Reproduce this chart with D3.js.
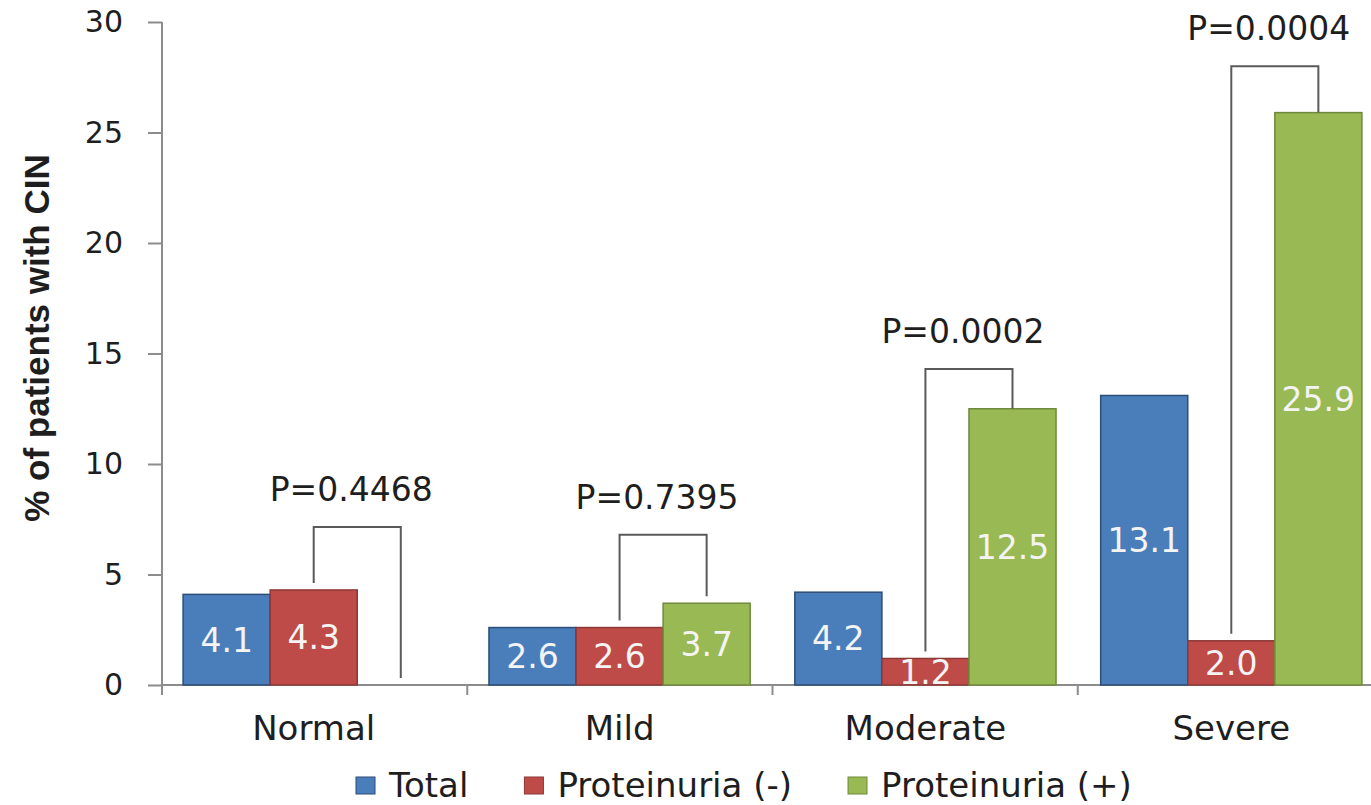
<!DOCTYPE html>
<html>
<head>
<meta charset="utf-8">
<script src="https://cdn.jsdelivr.net/npm/d3@7"></script>
<style>
  body { margin: 0; background: #fff; }
  text { font-family: "DejaVu Sans", Verdana, sans-serif; }
</style>
</head>
<body>
<svg id="chart"></svg>
<script>
// data
const categories = ['Normal', 'Mild', 'Moderate', 'Severe'];
const seriesNames = ['Total', 'Proteinuria (-)', 'Proteinuria (+)'];
const totalValues = [4.1, 2.6, 4.2, 13.1];
const protNegValues = [4.3, 2.6, 1.2, 2.0];
const protPosValues = [0, 3.7, 12.5, 25.9];
const pValues = ['P=0.4468', 'P=0.7395', 'P=0.0002', 'P=0.0004'];
const bracketTops = [7.15, 6.8, 14.3, 28.0];
const yTicks = [0, 5, 10, 15, 20, 25, 30];

const config = {
    width: 1371,
    height: 805,
    left: 162,
    right: 1383,
    top: 22,
    bottom: 685,
    colors: ['#4a7ebb', '#be4b48', '#98b954'],
    strokes: ['#2c4d75', '#8c3836', '#6f8a3c'],
    axisColor: '#8c8c8c',
    bracketColor: '#5a5a5a',
    textColor: '#1e1e1e'
};

const seriesValues = [totalValues, protNegValues, protPosValues];
const rows = [];
categories.forEach((c, i) => {
    seriesValues.forEach((vals, s) => {
        rows.push({ category: c, series: seriesNames[s], s: s, value: vals[i] });
    });
});

const svg = d3.select('#chart')
    .attr('width', config.width)
    .attr('height', config.height);

const y = d3.scaleLinear()
    .domain([0, 30])
    .range([config.bottom, config.top]);

const x0 = d3.scaleBand()
    .domain(categories)
    .range([config.left, config.right])
    .paddingInner(0.146)
    .paddingOuter(0.069);

const x1 = d3.scaleBand()
    .domain(seriesNames)
    .range([0, x0.bandwidth()]);

svg.append('defs').append('clipPath')
    .attr('id', 'plot-clip')
    .append('rect')
    .attr('x', config.left)
    .attr('y', 0)
    .attr('width', config.width - config.left)
    .attr('height', config.bottom);

// y axis
const yAxis = d3.axisLeft(y)
    .tickValues(yTicks)
    .tickSize(14)
    .tickPadding(25)
    .tickFormat(d3.format('d'));

const yG = svg.append('g')
    .attr('transform', `translate(${config.left},0)`)
    .call(yAxis);
yG.select('.domain').remove();
yG.selectAll('.tick line').attr('stroke', config.axisColor).attr('stroke-width', 2);
yG.selectAll('.tick text')
    .attr('fill', config.textColor)
    .style('font-size', '30px')
    .style('font-family', '"DejaVu Sans", Verdana, sans-serif');

svg.append('line')
    .attr('x1', config.left).attr('x2', config.left)
    .attr('y1', config.top).attr('y2', config.bottom + 10)
    .attr('stroke', config.axisColor)
    .attr('stroke-width', 2);

// x axis with ticks between categories
svg.append('line')
    .attr('x1', config.left).attr('x2', config.width)
    .attr('y1', config.bottom).attr('y2', config.bottom)
    .attr('stroke', config.axisColor)
    .attr('stroke-width', 2);

const bandStep = (config.right - config.left) / categories.length;
svg.selectAll('.xtick')
    .data(d3.range(1, categories.length))
    .join('line')
    .attr('class', 'xtick')
    .attr('x1', d => config.left + d * bandStep)
    .attr('x2', d => config.left + d * bandStep)
    .attr('y1', config.bottom)
    .attr('y2', config.bottom + 10)
    .attr('stroke', config.axisColor)
    .attr('stroke-width', 2);

svg.selectAll('.cat-label')
    .data(categories)
    .join('text')
    .attr('class', 'cat-label')
    .attr('x', d => x0(d) + x0.bandwidth() / 2)
    .attr('y', 740)
    .attr('text-anchor', 'middle')
    .attr('fill', config.textColor)
    .style('font-size', '34px')
    .text(d => d);

// bars
svg.append('g')
    .selectAll('rect')
    .data(rows.filter(d => d.value > 0))
    .join('rect')
    .attr('x', d => x0(d.category) + x1(d.series))
    .attr('y', d => y(d.value))
    .attr('width', x1.bandwidth())
    .attr('height', d => y(0) - y(d.value))
    .attr('fill', d => config.colors[d.s])
    .attr('stroke', d => config.strokes[d.s])
    .attr('stroke-width', 1.5);

// value labels
svg.append('g')
    .attr('clip-path', 'url(#plot-clip)')
    .selectAll('text')
    .data(rows.filter(d => d.value > 0))
    .join('text')
    .attr('x', d => x0(d.category) + x1(d.series) + x1.bandwidth() / 2)
    .attr('y', d => (y(d.value) + y(0)) / 2)
    .attr('dy', '0.36em')
    .attr('text-anchor', 'middle')
    .attr('fill', '#f4f4f4')
    .style('font-size', '33px')
    .text(d => d.value.toFixed(1));

// significance brackets
const gap = 7;
categories.forEach((c, i) => {
    const xl = x0(c) + x1(seriesNames[1]) + x1.bandwidth() / 2;
    const xr = x0(c) + x1(seriesNames[2]) + x1.bandwidth() / 2;
    const yt = y(bracketTops[i]);
    const yl = y(protNegValues[i]) - gap;
    const yr = y(protPosValues[i]) - (protPosValues[i] > 5 ? 0 : gap);

    svg.append('path')
        .attr('d', `M${xl},${yl}V${yt}H${xr}V${yr}`)
        .attr('fill', 'none')
        .attr('stroke', config.bracketColor)
        .attr('stroke-width', 2);

    svg.append('text')
        .attr('x', (xl + xr) / 2 - 6)
        .attr('y', yt - 26)
        .attr('text-anchor', 'middle')
        .attr('fill', config.textColor)
        .style('font-size', '33px')
        .text(pValues[i]);
});

// y axis title
svg.append('text')
    .attr('transform', 'translate(49,338) rotate(-90)')
    .attr('text-anchor', 'middle')
    .attr('fill', config.textColor)
    .style('font-family', '"Liberation Sans", Arial, sans-serif')
    .style('font-weight', 'bold')
    .style('font-size', '35px')
    .text('% of patients with CIN');

// legend
const legend = svg.append('g');
let lx = 356;
seriesNames.forEach((name, s) => {
    legend.append('rect')
        .attr('x', lx)
        .attr('y', 777)
        .attr('width', 19)
        .attr('height', 17)
        .attr('fill', config.colors[s])
        .attr('stroke', config.strokes[s])
        .attr('stroke-width', 1);
    const t = legend.append('text')
        .attr('x', lx + 33)
        .attr('y', 797)
        .attr('fill', config.textColor)
        .style('font-size', '34px')
        .text(name);
    lx += 33 + t.node().getComputedTextLength() + 56;
});
</script>
</body>
</html>
